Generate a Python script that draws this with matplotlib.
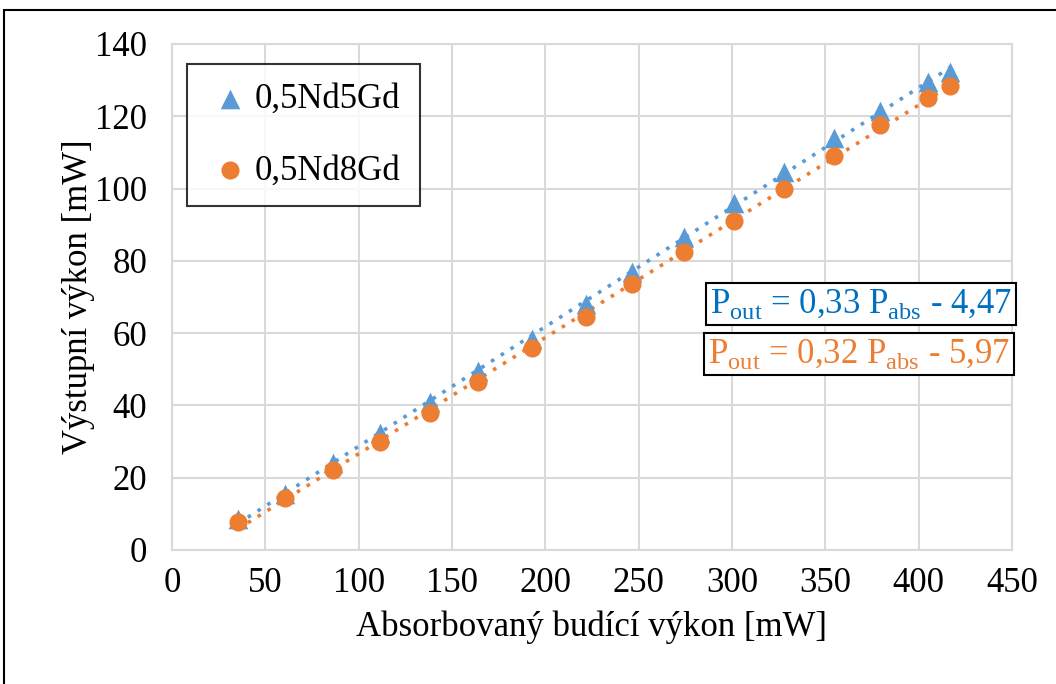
import numpy as np
import matplotlib
matplotlib.use("Agg")
import matplotlib.pyplot as plt
from matplotlib.patches import Rectangle

# Data
x_5gd = [35.4, 60.5, 86.3, 111.4, 138.2, 163.9, 192.9, 221.8, 246.4, 274.3, 301.1, 327.9, 354.6, 379.3, 405.0, 416.8]
y_5gd = [8.5, 15.5, 24.0, 32.5, 41.0, 49.5, 58.5, 68.0, 77.0, 86.5, 96.0, 104.5, 114.0, 121.5, 129.6, 132.3]
x_8gd = [35.4, 60.5, 86.3, 111.4, 138.2, 163.9, 192.9, 221.8, 246.4, 274.3, 301.1, 327.9, 354.6, 379.3, 405.0, 416.8]
y_8gd = [7.8, 14.5, 22.0, 30.0, 38.0, 46.5, 56.0, 64.5, 73.5, 82.5, 91.0, 100.0, 109.0, 117.5, 125.0, 128.5]
labels = ["0,5Nd5Gd", "0,5Nd8Gd"]
eq_texts = [r"P$_{\mathregular{out}}$ = 0,33 P$_{\mathregular{abs}}$ - 4,47",
            r"P$_{\mathregular{out}}$ = 0,32 P$_{\mathregular{abs}}$ - 5,97"]
xticks = [0, 50, 100, 150, 200, 250, 300, 350, 400, 450]
yticks = [0, 20, 40, 60, 80, 100, 120, 140]

plt.rcParams['font.family'] = ['Liberation Serif', 'DejaVu Serif']
plt.rcParams['mathtext.fontset'] = 'custom'
plt.rcParams['mathtext.rm'] = 'Liberation Serif'

blue = '#5B9BD5'
orange = '#ED7D31'
blue_txt = '#0070C0'
FS = 25

W, H = 1056, 684
fig = plt.figure(figsize=(W/100, H/100), dpi=100)
ax = fig.add_axes([172/W, 1-550/H, (1012-172)/W, (550-44)/H])

# figure border
fig.patches.append(Rectangle((4/W, -0.1), 1.2, 1-10/H+0.1, transform=fig.transFigure,
                             fill=False, edgecolor='black', linewidth=1.5, zorder=0))

ax.set_xlim(0, 450)
ax.set_ylim(0, 140)
ax.set_xticks(xticks)
ax.set_yticks(yticks)
ax.grid(True, color='#D9D9D9', linewidth=1.5, zorder=0)
for s in ax.spines.values():
    s.set_color('#D9D9D9')
    s.set_linewidth(1.5)
ax.tick_params(length=0, labelsize=FS)
ax.tick_params(axis='y', pad=18)
ax.tick_params(axis='x', pad=12)

# trendlines
for xs, ys, c in [(x_5gd, y_5gd, blue), (x_8gd, y_8gd, orange)]:
    k, q = np.polyfit(xs, ys, 1)
    xx = np.array([min(xs), max(xs)])
    ax.plot(xx, k*xx + q, linestyle=(0, (1, 2.2)), color=c, linewidth=2.6, zorder=2)

ax.scatter(x_5gd, y_5gd, marker='^', s=200, color=blue, zorder=3, label=labels[0], linewidths=0)
ax.scatter(x_8gd, y_8gd, marker='o', s=170, color=orange, zorder=4, label=labels[1], linewidths=0)

leg = ax.legend(loc='upper left', bbox_to_anchor=((187-172)/840, 1-(64-44)/506),
                fontsize=FS, frameon=True, fancybox=False, edgecolor='black',
                borderpad=0.55, labelspacing=1.1, handletextpad=0.0, handlelength=1.4,
                borderaxespad=0)
leg.get_frame().set_linewidth(1.5)

ax.set_xlabel("Absorbovaný budící výkon [mW]", fontsize=FS, labelpad=8)
ax.set_ylabel("Výstupní výkon [mW]", fontsize=FS, labelpad=0)

bbox = dict(boxstyle='square,pad=0.12', facecolor='white', edgecolor='black', linewidth=1.5)
ax.text(1.0, 1-(304-44)/506, eq_texts[0], transform=ax.transAxes, ha='right', va='center',
        fontsize=FS, color=blue_txt, bbox=bbox, zorder=6)
ax.text(0.9975, 1-(354-44)/506, eq_texts[1], transform=ax.transAxes, ha='right', va='center',
        fontsize=FS, color=orange, bbox=bbox, zorder=6)

fig.savefig("out.png", dpi=100)
